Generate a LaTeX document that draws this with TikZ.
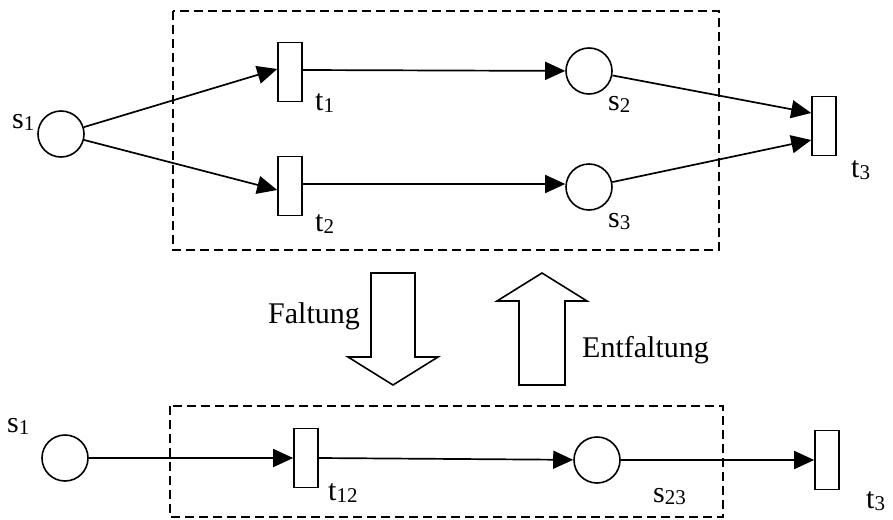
\documentclass[tikz,border=0pt]{standalone}
\usepackage{fontspec}
\setmainfont{Liberation Serif}
\usetikzlibrary{arrows.meta,calc}

% index set slightly smaller and barely lowered
\newcommand\idx[1]{\raisebox{-2.5pt}{\fontsize{21}{24}\selectfont #1}}

\tikzset{
  place/.style={draw, circle, line width=1.6pt, minimum size=46pt, inner sep=0pt},
  trans/.style={draw, rectangle, line width=1.6pt, minimum width=24pt, minimum height=59pt, inner sep=0pt},
  arc/.style={line width=1.7pt, -{Triangle[length=20pt,width=18pt]}},
  frame/.style={draw, line width=1.4pt, dash pattern=on 9pt off 5pt},
  lbl/.style={anchor=base west, inner sep=0pt, font=\fontsize{30}{36}\selectfont},
  bigarrow/.style={draw, line width=1.6pt, fill=white}
}

\begin{document}
\begin{tikzpicture}[x=1pt, y=-1pt]
\useasboundingbox (0,0) rectangle (893,519);

% upper net
\draw[frame] (173,11) rectangle (719,250);
\node[place] (s1) at (61,134) {};
\node[trans] (t1) at (290,72) {};
\node[trans] (t2) at (290,186) {};
\node[place] (s2) at (589,71) {};
\node[place] (s3) at (589,187) {};
\node[trans] (t3) at (824,126) {};

\draw[arc] (s1) -- ($(t1.west)+(0,-3)$);
\draw[arc] (s1) -- ($(t2.west)+(0,4)$);
\draw[arc] ($(t1.east)+(0,-2)$) -- (s2);
\draw[arc] ($(t2.east)+(0,-2)$) -- ($(s3.west)+(0,-3)$);
\draw[arc] (s2) -- ($(t3.west)+(0,-13)$);
\draw[arc] (s3) -- ($(t3.west)+(0,14)$);

\node[lbl] (ls1) at (12,128) {s\idx{1}};
\node[lbl] (lt1) at (315,110) {t\idx{1}};
\node[lbl] (lt2) at (315,231) {t\idx{2}};
\node[lbl] (ls2) at (608,110) {s\idx{2}};
\node[lbl] (ls3) at (608,227) {s\idx{3}};
\node[lbl] (lt3) at (851,177) {t\idx{3}};

% folding / unfolding arrows
\draw[bigarrow] (371,273) -- (415,273) -- (415,357) -- (438,357) -- (393,385)
  -- (348,357) -- (371,357) -- cycle;
\draw[bigarrow] (519,385) -- (565,385) -- (565,301) -- (587,301) -- (542,273)
  -- (497,301) -- (519,301) -- cycle;
\node[lbl] (fold) at (268,323) {Faltung};
\node[lbl] (unfold) at (582,357) {Entfaltung};

% lower (folded) net
\draw[frame] (170,406) rectangle (723,517);
\node[place] (s1b) at (65,458) {};
\node[trans] (t12) at (306,458) {};
\node[place] (s23) at (597,460) {};
\node[trans] (t3b) at (827,460) {};

\draw[arc] (s1b) -- (t12);
\draw[arc] (t12.east) -- (s23);
\draw[arc] (s23) -- (t3b);

\node[lbl] (ls1b) at (7,432) {s\idx{1}};
\node[lbl] (lt12) at (328,500) {t\idx{12}};
\node[lbl] (ls23) at (653,502) {s\idx{23}};
\node[lbl] (lt3b) at (866,508) {t\idx{3}};
\end{tikzpicture}
\end{document}
